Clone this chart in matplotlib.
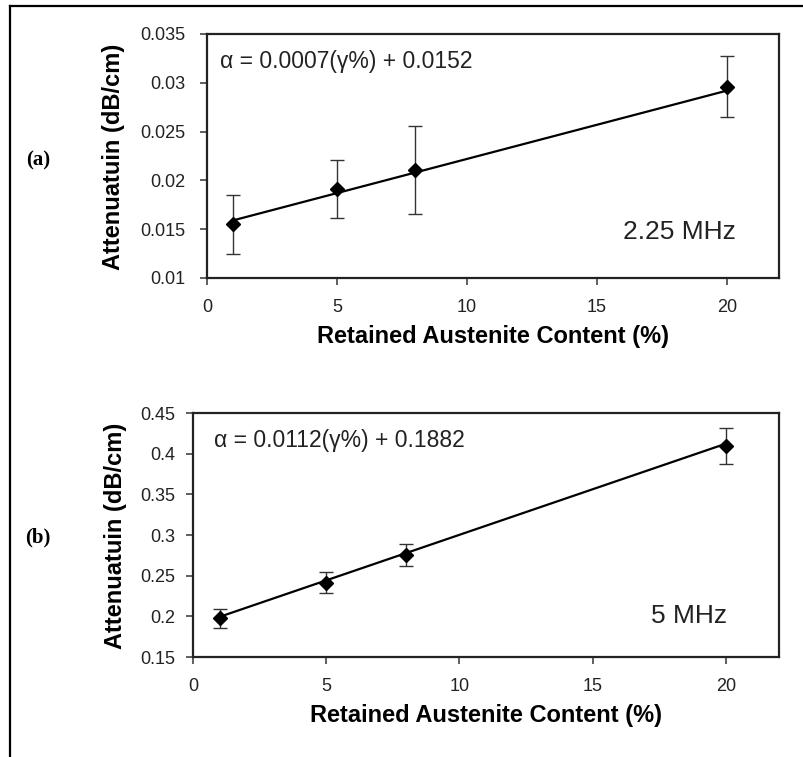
import matplotlib
matplotlib.use("Agg")
import matplotlib.pyplot as plt
from matplotlib.ticker import FuncFormatter
from matplotlib.lines import Line2D
import numpy as np

plt.rcParams['font.family'] = ['Liberation Sans', 'DejaVu Sans']

# ---- data ----
content = [1, 5, 8, 20]

att_225 = [0.0155, 0.0191, 0.0211, 0.0296]
err_225 = [0.0030, 0.0030, 0.0045, 0.0031]
fit_225 = [0.0007, 0.0152]

att_5 = [0.1976, 0.2414, 0.2754, 0.4094]
err_5 = [0.012, 0.013, 0.013, 0.022]
fit_5 = [0.0112, 0.1882]

yticks_a = [0.01, 0.015, 0.02, 0.025, 0.03, 0.035]
yticks_b = [0.15, 0.2, 0.25, 0.3, 0.35, 0.4, 0.45]
xticks = [0, 5, 10, 15, 20]

eq_a = "α = 0.0007(γ%) + 0.0152"
eq_b = "α = 0.0112(γ%) + 0.1882"
freq_a = "2.25 MHz"
freq_b = "5 MHz"
xlabel = "Retained Austenite Content (%)"
ylabel = "Attenuatuin (dB/cm)"

fig = plt.figure(figsize=(8.04, 7.57), dpi=100)

# figure border (top and left)
fig.add_artist(Line2D([10/804, 10/804], [0, 1 - 6/757], transform=fig.transFigure,
                      color='black', lw=1.6))
fig.add_artist(Line2D([10/804, 1], [1 - 6/757, 1 - 6/757], transform=fig.transFigure,
                      color='black', lw=1.6))


def fmt(v, pos):
    return ('%.3f' % v).rstrip('0').rstrip('.') if v != 0 else '0'


def panel(rect, y, err, fit, yticks, eq, freq, ylab_x, ypad, eqx, freqx, freqy):
    ax = fig.add_axes(rect)
    ax.errorbar(content, y, yerr=err, fmt='none', ecolor='#333333', elinewidth=1.0,
                capsize=5, capthick=1.0, zorder=2)
    xs = np.array([content[0], content[-1]])
    ax.plot(xs, fit[0] * xs + fit[1], color='black', lw=1.6, zorder=3)
    ax.plot(content, y, linestyle='none', marker='D', ms=7.5, color='black', zorder=4)
    ax.set_xlim(0, 22)
    ax.set_ylim(yticks[0], yticks[-1])
    ax.set_xticks(xticks)
    ax.set_yticks(yticks)
    ax.yaxis.set_major_formatter(FuncFormatter(fmt))
    for s in ax.spines.values():
        s.set_linewidth(1.6)
        s.set_color('#222222')
    ax.tick_params(axis='both', direction='out', length=5, width=1.2, color='#444444',
                   labelsize=13, labelcolor='#222222')
    ax.tick_params(axis='y', pad=ypad)
    ax.tick_params(axis='x', pad=10)
    ax.set_xlabel(xlabel, fontsize=17, fontweight='bold')
    ax.xaxis.set_label_coords(0.5, -0.24)
    ax.xaxis.label.set_verticalalignment('center')
    ax.set_ylabel(ylabel, fontsize=17, fontweight='bold')
    ax.yaxis.set_label_coords(ylab_x, 0.495)
    ax.yaxis.label.set_verticalalignment('center')
    ax.text(eqx, 0.889, eq, transform=ax.transAxes, fontsize=16.5, ha='left', va='center',
            color='#222222')
    ax.text(freqx, freqy, freq, transform=ax.transAxes, fontsize=19, ha='right',
            va='center', color='#222222')
    return ax


panel([207/804, 1 - 278/757, 572/804, 244/757], att_225, err_225, fit_225, yticks_a,
      eq_a, freq_a, -0.163, 10.5, 0.023, 0.925, 0.189)
panel([193/804, 1 - 657/757, 586/804, 244/757], att_5, err_5, fit_5, yticks_b,
      eq_b, freq_b, -0.132, 7.5, 0.036, 0.911, 0.168)

fig.text(38/804, 1 - 160/757, "(a)", fontsize=15, fontweight='bold',
         family='Liberation Serif', ha='center', va='center')
fig.text(38/804, 1 - 537/757, "(b)", fontsize=15, fontweight='bold',
         family='Liberation Serif', ha='center', va='center')

fig.savefig("out.png", dpi=100)
